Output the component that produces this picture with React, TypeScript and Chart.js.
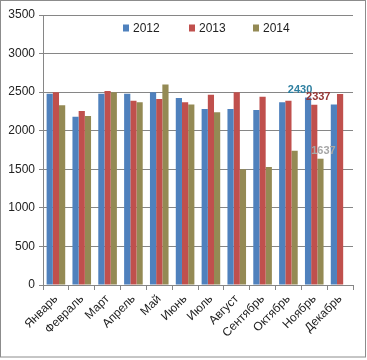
import React, { useEffect, useRef } from "react";
import { Chart, registerables } from "chart.js";

Chart.register(...registerables);

const months = ["Январь", "Февраль", "Март", "Апрель", "Май", "Июнь", "Июль", "Август", "Сентябрь", "Октябрь", "Ноябрь", "Декабрь"];
const years = ["2012", "2013", "2014"];
const values2012 = [2480, 2180, 2480, 2480, 2500, 2425, 2280, 2280, 2270, 2370, 2430, 2340];
const values2013 = [2500, 2257, 2516, 2390, 2410, 2370, 2465, 2500, 2440, 2390, 2337, 2475];
const values2014 = [2330, 2190, 2500, 2370, 2600, 2340, 2240, 1500, 1530, 1740, 1637, null];
const colors = ["#4F81BD", "#C0504D", "#948A54"];
const labelColors = ["#2E7FA0", "#943634", "#A6A6A6"];
const labelledMonth = 10; // Ноябрь
const labelShift = [-8, 4, 3];

const FONT = "'Liberation Sans', Arial, sans-serif";

const framePlugin = {
  id: "frame",
  beforeDraw(chart: any) {
    const { ctx, width, height } = chart;
    ctx.save();
    ctx.fillStyle = "#ffffff";
    ctx.fillRect(0, 0, width, height);
    ctx.restore();
  },
  afterDraw(chart: any) {
    const { ctx, chartArea } = chart;
    ctx.save();
    ctx.strokeStyle = "#8c8c8c";
    ctx.lineWidth = 1;
    ctx.strokeRect(0.5, 0.5, 365, 356.5);

    // legend inside plot area
    ctx.font = `12px ${FONT}`;
    ctx.textBaseline = "middle";
    const legendY = chartArea.top + 13;
    const starts = [123, 189, 253];
    years.forEach((y, i) => {
      ctx.fillStyle = colors[i];
      ctx.fillRect(starts[i], legendY - 3.5, 6, 7);
      ctx.fillStyle = "#222";
      ctx.textAlign = "left";
      ctx.fillText(y, starts[i] + 10, legendY + 0.5);
    });

    // data labels for Ноябрь
    ctx.font = `bold 11px ${FONT}`;
    ctx.textAlign = "center";
    ctx.textBaseline = "bottom";
    chart.data.datasets.forEach((ds: any, i: number) => {
      const meta = chart.getDatasetMeta(i);
      const el = meta.data[labelledMonth];
      const v = ds.data[labelledMonth];
      if (!el || v == null) return;
      ctx.fillStyle = labelColors[i];
      ctx.fillText(String(v), el.x + labelShift[i], el.y - 2);
    });
    ctx.restore();
  },
};

export default function App() {
  const ref = useRef<HTMLCanvasElement>(null);
  useEffect(() => {
    if (!ref.current) return;
    const data = [values2012, values2013, values2014];
    const chart = new Chart(ref.current, {
      type: "bar",
      data: {
        labels: months,
        datasets: years.map((y, i) => ({
          label: y,
          data: data[i],
          backgroundColor: colors[i],
          borderWidth: 0,
          categoryPercentage: 0.72,
          barPercentage: 1.0,
        })),
      },
      options: {
        animation: false,
        responsive: false,
        devicePixelRatio: 1,
        layout: { padding: { top: 15, right: 14, left: 0, bottom: 0 } },
        plugins: { legend: { display: false }, tooltip: { enabled: false } },
        scales: {
          x: {
            grid: { drawOnChartArea: false, drawTicks: true, tickLength: 5, color: "#868686", offset: true },
            border: { display: true, color: "#868686" },
            ticks: {
              minRotation: 45,
              maxRotation: 45,
              color: "#222",
              font: { family: FONT, size: 12 },
              padding: 2,
            },
            afterFit: (s: any) => { s.height = 75; },
          },
          y: {
            min: 0,
            max: 3500,
            ticks: {
              stepSize: 500,
              color: "#222",
              font: { family: FONT, size: 12 },
              padding: 4,
              callback: (v: any) => String(v),
            },
            grid: { color: "#868686", tickLength: 4 },
            border: { display: true, color: "#868686" },
            afterFit: (s: any) => { s.width = 43; },
          },
        },
      },
      plugins: [framePlugin],
    });
    return () => chart.destroy();
  }, []);
  return (
    <div style={{ position: "fixed", left: 0, top: 0, width: 367, height: 360 }}>
      <canvas ref={ref} width={367} height={360} style={{ display: "block", width: 367, height: 360 }} />
    </div>
  );
}
